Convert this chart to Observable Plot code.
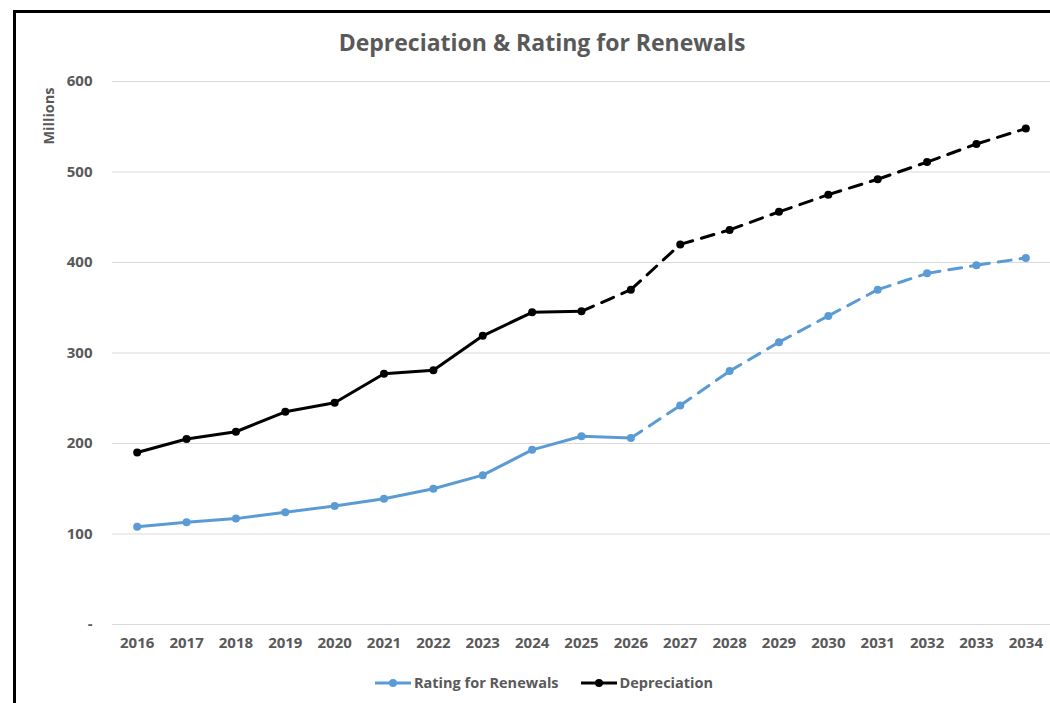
<!DOCTYPE html>
<html>
<head>
<meta charset="utf-8">
<script src="https://cdn.jsdelivr.net/npm/d3@7"></script>
<script src="https://cdn.jsdelivr.net/npm/@observablehq/plot@0.6"></script>
<style>
  html, body { margin: 0; padding: 0; background: #fff; overflow: hidden; width: 1050px; height: 703px; }
  body { position: relative; font-family: "Open Sans", sans-serif; color: #595959; }
  #frame { position: absolute; left: 13px; top: 10px; width: 1200px; height: 900px; border: 3px solid #000; box-sizing: border-box; }
  #title { position: absolute; left: 0; width: 1084px; top: 26px; text-align: center; font-size: 23px; font-weight: bold; color: #595959; }
  #chart { position: absolute; left: 0; top: 0; }
  #ylabel { position: absolute; left: 48px; top: 116px; transform: translate(-50%, -50%) rotate(-90deg); font-size: 14.5px; font-weight: bold; white-space: nowrap; }
  #legend { position: absolute; top: 673px; left: 375px; display: flex; align-items: center; font-size: 14.5px; font-weight: bold; color: #595959; }
  .item { display: flex; align-items: center; margin-right: 22px; }
  .item svg { margin-right: 3px; }
</style>
</head>
<body>
<div id="frame"></div>
<div id="chart"></div>
<div id="title">Depreciation &amp; Rating for Renewals</div>
<div id="ylabel">Millions</div>
<div id="legend"></div>
<script>
const years = ["2016","2017","2018","2019","2020","2021","2022","2023","2024","2025","2026","2027","2028","2029","2030","2031","2032","2033","2034"];
const depreciation = [190, 205, 213, 235, 245, 277, 281, 319, 345, 346, 370, 420, 436, 456, 475, 492, 511, 531, 548];
const rating = [108, 113, 117, 124, 131, 139, 150, 165, 193, 208, 206, 242, 280, 312, 341, 370, 388, 397, 405];
const yTicks = [0, 100, 200, 300, 400, 500, 600];
const seriesNames = ["Rating for Renewals", "Depreciation"];
const seriesColors = ["#5B9BD5", "#000000"];
const lastSolidYear = {"Rating for Renewals": "2026", "Depreciation": "2025"};

const rows = [];
years.forEach((y, i) => {
  rows.push({year: y, value: rating[i], series: seriesNames[0], idx: i});
  rows.push({year: y, value: depreciation[i], series: seriesNames[1], idx: i});
});
const solidRows = rows.filter(d => d.idx <= years.indexOf(lastSolidYear[d.series]));
// dashed part: each segment drawn separately so the dash pattern restarts at each point
const dashedRows = [];
seriesNames.forEach(name => {
  const start = years.indexOf(lastSolidYear[name]);
  const vals = name === seriesNames[0] ? rating : depreciation;
  for (let i = start; i < years.length - 1; i++) {
    dashedRows.push({year: years[i], value: vals[i], series: name, seg: name + i});
    dashedRows.push({year: years[i + 1], value: vals[i + 1], series: name, seg: name + i});
  }
});

const chart = Plot.plot({
  width: 1050,
  height: 660,
  marginLeft: 112,
  marginRight: 0,
  marginTop: 81,
  marginBottom: 36,
  style: { fontFamily: "Open Sans, sans-serif", fontSize: "15px", fontWeight: "bold", color: "#595959", background: "transparent" },
  x: { type: "point", domain: years, padding: 0.5, round: false, label: null },
  y: { domain: [0, 600], label: null },
  color: { domain: seriesNames, range: seriesColors },
  marks: [
    Plot.gridY(yTicks, { stroke: "#d9d9d9", strokeOpacity: 1, strokeWidth: 1 }),
    Plot.axisX({ tickSize: 0, tickPadding: 13, label: null, fill: "#595959" }),
    Plot.axisY({ ticks: yTicks, tickSize: 0, tickPadding: 20, label: null, fill: "#595959", tickFormat: d => d === 0 ? "-" : d }),
    Plot.line(solidRows, { x: "year", y: "value", z: "series", stroke: "series", strokeWidth: 3 }),
    Plot.line(dashedRows, { x: "year", y: "value", z: "seg", stroke: "series", strokeWidth: 3, strokeDasharray: "13,9" }),
    Plot.dot(rows, { x: "year", y: "value", fill: "series", r: 4 })
  ]
});
document.getElementById("chart").appendChild(chart);

const legend = document.getElementById("legend");
seriesNames.forEach((name, i) => {
  const item = document.createElement("div");
  item.className = "item";
  item.innerHTML = `<svg width="36" height="10"><line x1="0" y1="5" x2="36" y2="5" stroke="${seriesColors[i]}" stroke-width="3"/><circle cx="18" cy="5" r="4" fill="${seriesColors[i]}"/></svg><span>${name}</span>`;
  legend.appendChild(item);
});
</script>
</body>
</html>
